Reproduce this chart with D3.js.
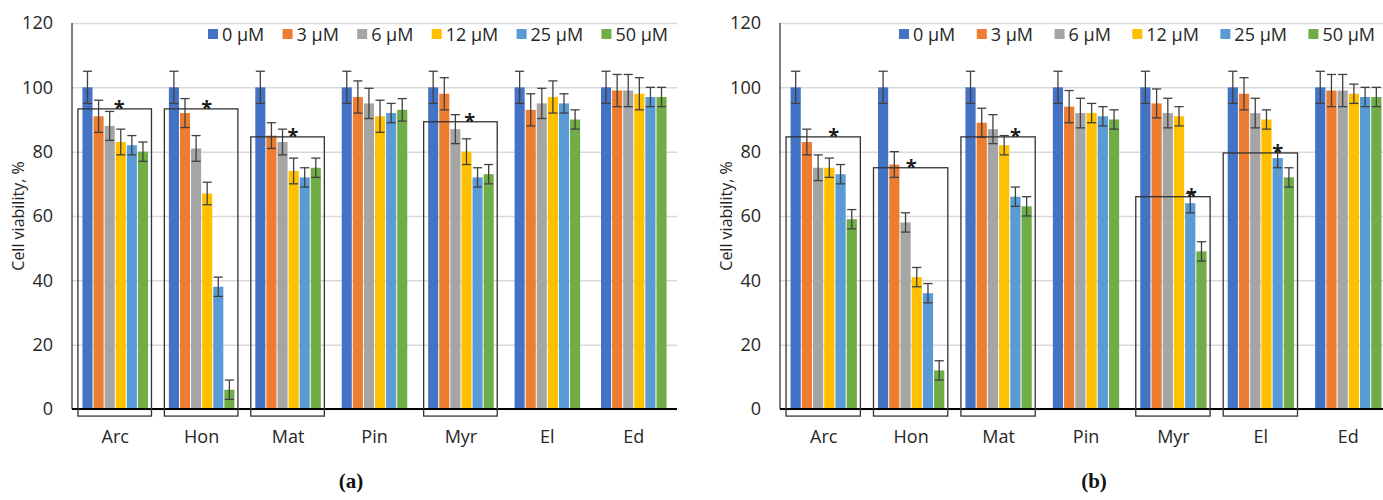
<!DOCTYPE html>
<html>
<head>
<meta charset="utf-8">
<script src="https://cdn.jsdelivr.net/npm/d3@7"></script>
<style>
  body { margin: 0; background: #fff; }
  svg { display: block; font-family: "Open Sans", sans-serif; }
</style>
</head>
<body>
<svg id="chart" width="1383" height="500"></svg>
<script>
const categories = ["Arc", "Hon", "Mat", "Pin", "Myr", "El", "Ed"];
const doses = ["0 µM", "3 µM", "6 µM", "12 µM", "25 µM", "50 µM"];
const yTicks = [0, 20, 40, 60, 80, 100, 120];

// panel (a): one row per category, one value per dose
const valuesA = [
  [100, 91, 88, 83, 82, 80],
  [100, 92, 81, 67, 38, 6],
  [100, 85, 83, 74, 72, 75],
  [100, 97, 95, 91, 92, 93],
  [100, 98, 87, 80, 72, 73],
  [100, 93, 95, 97, 95, 90],
  [100, 99, 99, 98, 97, 97]
];
const errorsA = [
  [5, 5, 4.5, 4, 3, 3],
  [5, 4.5, 4, 3.5, 3, 3],
  [5, 4, 4, 4, 3, 3],
  [5, 5, 4.7, 5, 3, 3.5],
  [5, 5, 4.5, 4, 3, 3],
  [5, 5, 4.7, 5, 3, 3],
  [5, 5, 5, 5, 3, 3]
];

// panel (b)
const valuesB = [
  [100, 83, 75, 75, 73, 59],
  [100, 76, 58, 41, 36, 12],
  [100, 89, 87, 82, 66, 63],
  [100, 94, 92, 92, 91, 90],
  [100, 95, 92, 91, 64, 49],
  [100, 98, 92, 90, 78, 72],
  [100, 99, 99, 98, 97, 97]
];
const errorsB = [
  [5, 4, 4, 3, 3, 3],
  [5, 4, 3, 3, 3, 3],
  [5, 4.5, 4.5, 3, 3, 3],
  [5, 5, 4.6, 3, 3, 3],
  [5, 4.5, 4.6, 3, 3, 3],
  [5, 5, 4.6, 3, 3, 3],
  [5, 5, 5, 3, 3, 3]
];

// significance boxes: category, top of box (value), star position in bar units
const boxCatsA = ["Arc", "Hon", "Mat", "Myr"];
const boxTopsA = [93.3, 93.3, 84.6, 89.3];
const starPosA = [2.86, 2.95, 2.95, 3.3];
const boxCatsB = ["Arc", "Hon", "Mat", "Myr", "El"];
const boxTopsB = [84.6, 75, 84.6, 66, 79.6];
const starPosB = [3.4, 2.5, 4.0, 4.1, 4.0];
const boxBottom = -2.2;

const colors = ["#4472C4", "#ED7D31", "#A5A5A5", "#FFC000", "#5B9BD5", "#70AD47"];

const panels = [
  { left: 72, right: 677, values: valuesA, errors: errorsA, boxCats: boxCatsA, boxTops: boxTopsA, starPos: starPosA,
    legendStart: 208, legendEnd: 668, tag: "(a)", tagX: 351 },
  { left: 780, right: 1392, values: valuesB, errors: errorsB, boxCats: boxCatsB, boxTops: boxTopsB, starPos: starPosB,
    legendStart: 899, legendEnd: 1375, tag: "(b)", tagX: 1094 }
];

const svg = d3.select("#chart");
const plotTop = 23, plotBottom = 409;

const y = d3.scaleLinear().domain([0, 120]).range([plotBottom, plotTop]);

panels.forEach((p) => {
  const g = svg.append("g");
  const width = p.right - p.left;

  const x0 = d3.scaleBand()
    .domain(categories)
    .range([p.left, p.right])
    .paddingInner(0.23)
    .paddingOuter(0.115);

  const x1 = d3.scaleBand()
    .domain(doses)
    .range([0, x0.bandwidth()]);

  // gridlines + tick labels
  const yAxis = g.append("g")
    .attr("transform", `translate(${p.left},0)`)
    .call(d3.axisLeft(y).tickValues(yTicks).tickSize(-width).tickPadding(19));
  yAxis.select(".domain").remove();
  yAxis.selectAll(".tick line")
    .attr("stroke", "#d9d9d9")
    .attr("stroke-width", 1.5);
  yAxis.selectAll(".tick text")
    .attr("fill", "#262626")
    .style("font-size", "18px")
    .style("font-family", "Open Sans");

  // y axis title
  g.append("text")
    .attr("transform", `translate(${p.left - 54},${(plotTop + plotBottom) / 2}) rotate(-90)`)
    .attr("text-anchor", "middle")
    .attr("dy", "0.35em")
    .attr("fill", "#262626")
    .style("font-size", "16px")
    .text("Cell viability, %");

  // bars
  const rows = categories.map((c, i) => ({ cat: c, vals: p.values[i], errs: p.errors[i] }));
  const groups = g.selectAll(".grp")
    .data(rows)
    .enter()
    .append("g")
    .attr("class", "grp")
    .attr("transform", (d) => `translate(${x0(d.cat)},0)`);

  groups.selectAll("rect")
    .data((d) => d.vals.map((v, j) => ({ dose: doses[j], v: v, e: d.errs[j], j: j })))
    .enter()
    .append("rect")
    .attr("x", (d) => x1(d.dose) + 0.5)
    .attr("y", (d) => y(d.v))
    .attr("width", x1.bandwidth() - 1)
    .attr("height", (d) => y(0) - y(d.v))
    .attr("fill", (d) => colors[d.j]);

  // error bars
  const err = groups.selectAll(".err")
    .data((d) => d.vals.map((v, j) => ({ dose: doses[j], v: v, e: d.errs[j] })))
    .enter()
    .append("g")
    .attr("class", "err")
    .attr("stroke", "#404040")
    .attr("stroke-width", 1.3);
  const cx = (d) => x1(d.dose) + x1.bandwidth() / 2;
  const capW = x1.bandwidth() - 2;
  err.append("line")
    .attr("x1", cx).attr("x2", cx)
    .attr("y1", (d) => y(d.v + d.e)).attr("y2", (d) => y(d.v - d.e));
  err.append("line")
    .attr("x1", (d) => cx(d) - capW / 2).attr("x2", (d) => cx(d) + capW / 2)
    .attr("y1", (d) => y(d.v + d.e)).attr("y2", (d) => y(d.v + d.e));
  err.append("line")
    .attr("x1", (d) => cx(d) - capW / 2).attr("x2", (d) => cx(d) + capW / 2)
    .attr("y1", (d) => y(d.v - d.e)).attr("y2", (d) => y(d.v - d.e));

  // axis lines
  g.append("line")
    .attr("x1", p.left).attr("x2", p.left)
    .attr("y1", y(120)).attr("y2", y(0))
    .attr("stroke", "#000").attr("stroke-width", 1);
  g.append("line")
    .attr("x1", p.left).attr("x2", p.right)
    .attr("y1", y(0)).attr("y2", y(0))
    .attr("stroke", "#000").attr("stroke-width", 2.2);

  // category labels
  const xAxis = g.append("g")
    .attr("transform", `translate(0,${y(0)})`)
    .call(d3.axisBottom(x0).tickSize(0).tickPadding(21));
  xAxis.select(".domain").remove();
  xAxis.selectAll(".tick text")
    .attr("fill", "#262626")
    .style("font-size", "18px")
    .style("font-family", "Open Sans");

  // significance boxes and stars
  const boxes = p.boxCats.map((c, i) => ({ cat: c, top: p.boxTops[i], star: p.starPos[i] }));
  g.selectAll(".box")
    .data(boxes)
    .enter()
    .append("rect")
    .attr("class", "box")
    .attr("x", (d) => x0(d.cat) - 4)
    .attr("y", (d) => y(d.top))
    .attr("width", x0.bandwidth() + 7)
    .attr("height", (d) => y(boxBottom) - y(d.top))
    .attr("fill", "none")
    .attr("stroke", "#333")
    .attr("stroke-width", 1.3);
  g.selectAll(".star")
    .data(boxes)
    .enter()
    .append("text")
    .attr("class", "star")
    .attr("x", (d) => x0(d.cat) + x1.step() * (d.star + 0.5))
    .attr("y", (d) => y(d.top) + 6)
    .attr("text-anchor", "middle")
    .attr("fill", "#1a1a1a")
    .style("font-size", "20px")
    .style("font-weight", "bold")
    .text("*");

  // legend, spread over its span
  const leg = g.append("g");
  const items = leg.selectAll(".li")
    .data(doses)
    .enter()
    .append("g")
    .attr("class", "li");
  items.append("rect")
    .attr("width", 10).attr("height", 10)
    .attr("y", 29)
    .attr("fill", (d, i) => colors[i]);
  items.append("text")
    .attr("x", 14)
    .attr("y", 41)
    .attr("fill", "#262626")
    .style("font-size", "18px")
    .text((d) => d);
  const widths = [];
  items.each(function () { widths.push(this.getBBox().width); });
  const gap = (p.legendEnd - p.legendStart - d3.sum(widths)) / (widths.length - 1);
  let pos = p.legendStart;
  items.attr("transform", (d, i) => {
    const t = `translate(${pos},0)`;
    pos += widths[i] + gap;
    return t;
  });

  // panel tag
  svg.append("text")
    .attr("x", p.tagX)
    .attr("y", 488)
    .attr("text-anchor", "middle")
    .attr("fill", "#111")
    .style("font-family", "Liberation Serif")
    .style("font-weight", "bold")
    .style("font-size", "21px")
    .text(p.tag);
});
</script>
</body>
</html>
